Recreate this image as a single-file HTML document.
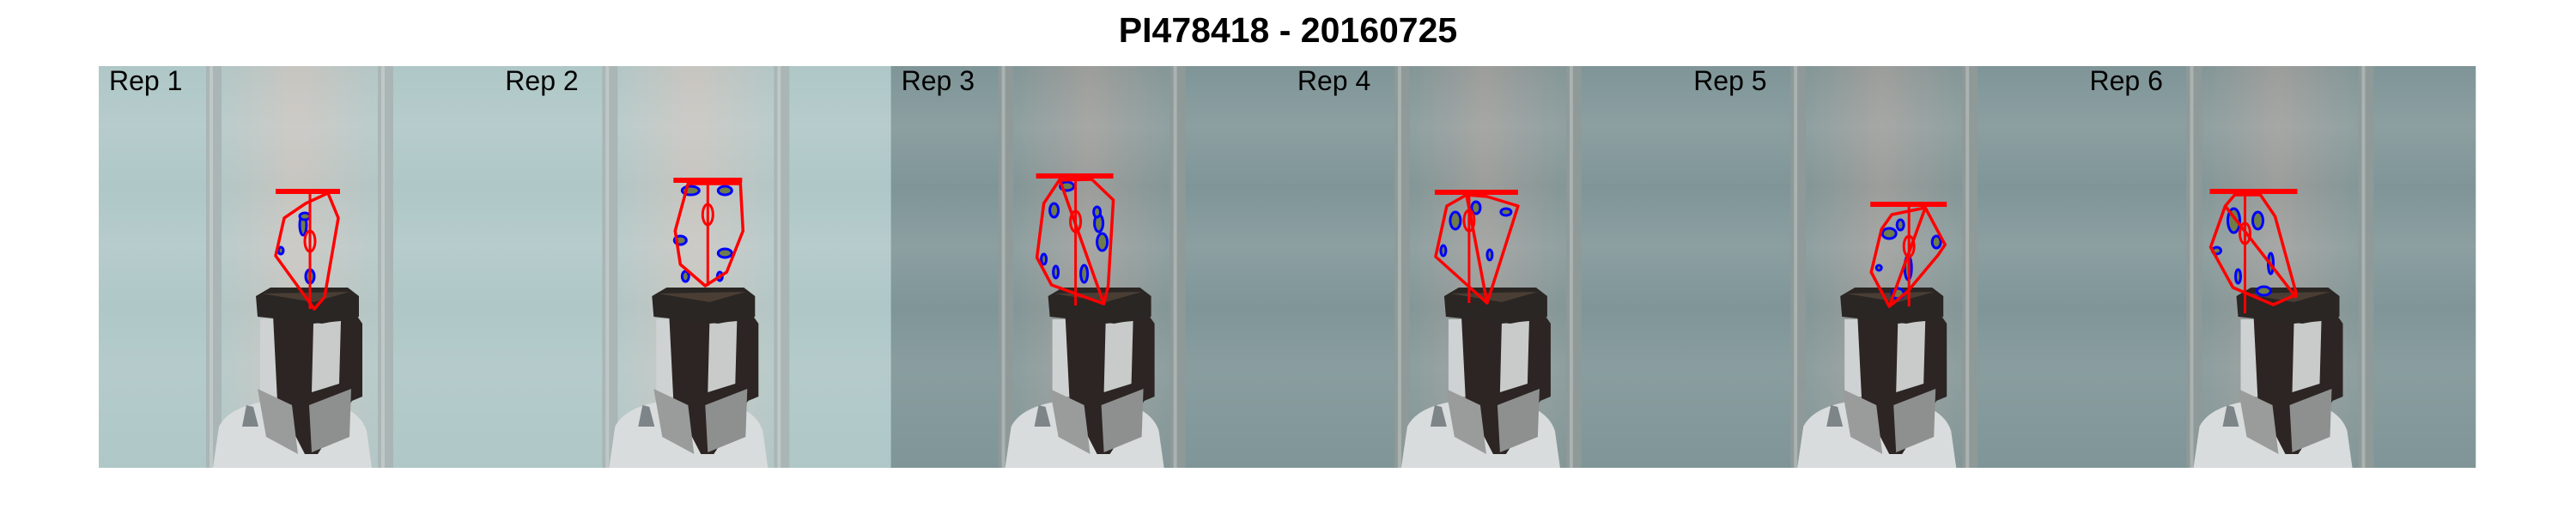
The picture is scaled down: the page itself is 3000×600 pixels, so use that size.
<!DOCTYPE html>
<html><head><meta charset="utf-8">
<style>
html,body{margin:0;padding:0;background:#fff;}
body{width:3000px;height:600px;position:relative;overflow:hidden;font-family:"Liberation Sans",Arial,sans-serif;}
#title{position:absolute;left:0;width:3000px;top:12px;text-align:center;font-weight:bold;font-size:41px;color:#000;line-height:46px;}
svg{position:absolute;left:0;top:0;}
</style></head>
<body>
<div id="title">PI478418 - 20160725</div>
<svg id="chart" width="3000" height="600"></svg>
<script>
// ---- data ----
const reps = ["Rep 1","Rep 2","Rep 3","Rep 4","Rep 5","Rep 6"];
const lighting = ["light","light","dark","dark","dark","dark"];
// convex hull vertices (panel-local px)
const hulls = [
 [[267,148],[279,177],[263,269],[251,283],[206,221],[216,177],[241,160]],
 [[225,137],[286,137],[289,192],[270,240],[245,256],[216,231],[210,192]],
 [[196,133],[234,132],[259,156],[253,256],[248,277],[187,255],[170,223],[178,160]],
 [[209,150],[233,152],[269,163],[233,276],[173,222],[186,163]],
 [[243,173],[282,165],[305,208],[297,220],[261,263],[240,280],[219,240],[231,190]],
 [[181,150],[211,150],[228,175],[253,266],[226,278],[179,258],[153,211],[170,163]]
];
// plant height bar: [x1,x2,y]
const topBars = [[206,281,146],[208,288,133],[169,259,128],[172,269,147],[218,307,161],[152,254,146]];
// vertical centre line: [x, yBottom]
const centerLines = [[246,283],[248,256],[215,279],[212,276],[263,280],[193,288]];
// centroid ellipse: [cx, cy]
const centroids = [[246,204],[248,173],[215,181],[212,180],[263,210],[193,195]];
// diagonal line [x1,y1,x2,y2] (null = none)
const diagonals = [null,null,[196,131,248,277],[209,150,233,276],[282,165,240,280],[170,163,253,270]];
// leaf blobs [cx,cy,rx,ry]
const leaves = [
 [[238,185,4,12],[246,245,5,8],[212,215,3,4],[240,175,6,4]],
 [[228,145,10,5],[268,145,8,5],[216,203,7,5],[268,218,8,5],[222,245,4,6],[262,245,3,5]],
 [[205,140,8,5],[190,168,5,8],[242,183,5,10],[246,205,6,10],[178,225,3,6],[192,240,3,7],[225,242,4,10],[240,170,4,6]],
 [[196,180,6,10],[220,165,5,7],[255,170,6,4],[182,215,3,6],[236,220,3,6]],
 [[240,195,8,6],[253,185,4,6],[295,205,5,7],[262,235,4,14],[228,235,3,3],[250,265,7,6]],
 [[180,180,7,14],[208,180,6,10],[160,215,5,4],[223,230,3,12],[185,245,3,8],[215,262,8,5]]
];
const panelW = 461.3, panelH = 468, panelX0 = 115, panelY0 = 77;
function px(i, x){ return panelX0 + i*panelW + x; }
function py(y){ return panelY0 + y; }

const svg = document.getElementById('chart');
const NS = "http://www.w3.org/2000/svg";
function mk(tag, attrs, parent){
  const e = document.createElementNS(NS, tag);
  for (const k in attrs) e.setAttribute(k, attrs[k]);
  (parent||svg).appendChild(e);
  return e;
}
const defs = mk('defs',{});
const pal = {
  light:{edge:"#afc7c7",mid:"#c8c5c0",pillar:"#a9b4b2"},
  dark:{edge:"#7f9597",mid:"#9d9e9b",pillar:"#8f9998"}
};
["light","dark"].forEach(k=>{
  const g = mk('linearGradient',{id:'bg-'+k,x1:0,y1:0,x2:1,y2:0},defs);
  mk('stop',{offset:'0',"stop-color":pal[k].edge},g);
  mk('stop',{offset:'0.28',"stop-color":pal[k].edge},g);
  mk('stop',{offset:'0.5',"stop-color":pal[k].mid},g);
  mk('stop',{offset:'0.74',"stop-color":pal[k].edge},g);
  mk('stop',{offset:'1',"stop-color":pal[k].edge},g);
  const v = mk('linearGradient',{id:'band-'+k,x1:0,y1:0,x2:0,y2:1},defs);
  [[0,0.0],[0.15,0.1],[0.3,0],[0.45,0.1],[0.6,0],[0.75,0.08],[1,0]].forEach(s=>{
    mk('stop',{offset:s[0],"stop-color":"#ffffff","stop-opacity":s[1]},v);
  });
});

reps.forEach((name,i)=>{
  const k = lighting[i], c = pal[k];
  const g = mk('g',{});
  
  
  mk('rect',{x:px(i,0),y:py(0),width:panelW+0.5,height:panelH,fill:'url(#bg-'+k+')'},g);
  mk('rect',{x:px(i,0),y:py(0),width:panelW+0.5,height:panelH,fill:'url(#band-'+k+')'},g);
  // pillars
  [[125,18],[325,18]].forEach(p=>{
    mk('rect',{x:px(i,p[0]),y:py(0),width:p[1],height:panelH,fill:c.pillar,opacity:0.9},g);
    mk('rect',{x:px(i,p[0]+4),y:py(0),width:4,height:panelH,fill:'#ffffff',opacity:0.25},g);
  });
  // white base
  mk('path',{d:`M${px(i,133)},${py(468)} L${px(i,140)},${py(420)} Q${px(i,155)},${py(390)} ${px(i,225)},${py(388)} Q${px(i,300)},${py(388)} ${px(i,312)},${py(425)} L${px(i,318)},${py(468)} Z`,fill:'#d9dcdc'},g);
  // grey bracket
  mk('path',{d:`M${px(i,167)},${py(420)} L${px(i,172)},${py(395)} L${px(i,180)},${py(397)} L${px(i,186)},${py(420)} Z`,fill:'#7d8588'},g);
  // white backing panel
  mk('rect',{x:px(i,188),y:py(295),width:25,height:90,fill:'#cfd2d2'},g);
  // stand body
  mk('path',{d:`M${px(i,203)},${py(290)} L${px(i,300)},${py(290)} L${px(i,307)},${py(300)} L${px(i,307)},${py(385)} L${px(i,295)},${py(390)} L${px(i,255)},${py(452)} L${px(i,240)},${py(452)} L${px(i,208)},${py(390)} Z`,fill:'#2c2523'},g);
  mk('path',{d:`M${px(i,250)},${py(300)} L${px(i,282)},${py(297)} L${px(i,280)},${py(370)} L${px(i,248)},${py(380)} Z`,fill:'#c9cbcb'},g);
  // silver plates
  mk('path',{d:`M${px(i,185)},${py(376)} L${px(i,225)},${py(395)} L${px(i,232)},${py(452)} L${px(i,195)},${py(432)} Z`,fill:'#9a9c9c'},g);
  mk('path',{d:`M${px(i,245)},${py(395)} L${px(i,294)},${py(376)} L${px(i,292)},${py(432)} L${px(i,248)},${py(450)} Z`,fill:'#8e9090'},g);
  // pot
  mk('path',{d:`M${px(i,183)},${py(268)} L${px(i,200)},${py(258)} L${px(i,290)},${py(258)} L${px(i,303)},${py(268)} L${px(i,303)},${py(292)} L${px(i,260)},${py(300)} L${px(i,185)},${py(292)} Z`,fill:'#2a2624'},g);
  mk('path',{d:`M${px(i,190)},${py(265)} L${px(i,292)},${py(263)} L${px(i,250)},${py(275)} Z`,fill:'#4a3e34'},g);
  // rep label
  const t = mk('text',{x:px(i,12),y:py(28),"font-size":32,fill:'#000',"font-family":'"Liberation Sans",Arial,sans-serif'},g);
  t.textContent = name;
  
  
  // leaves
  leaves[i].forEach(l=>{
    const e = mk('ellipse',{cx:px(i,l[0]),cy:py(l[1]),rx:l[2],ry:l[3],fill:'#6f7d4a',stroke:'#0000ff',"stroke-width":3},g);
    
    
  });
  // hull
  const pts = hulls[i].map(p=>px(i,p[0])+','+py(p[1])).join(' ');
  const hull = mk('polygon',{points:pts,fill:'none',stroke:'#ff0000',"stroke-width":3.5,"stroke-linejoin":'round'},g);
  
  
  const tb = topBars[i];
  const bar = mk('line',{x1:px(i,tb[0]),x2:px(i,tb[1]),y1:py(tb[2]),y2:py(tb[2]),stroke:'#ff0000',"stroke-width":6},g);
  
  
  const cl = centerLines[i];
  const vl = mk('line',{x1:px(i,cl[0]),x2:px(i,cl[0]),y1:py(tb[2]),y2:py(cl[1]),stroke:'#ff0000',"stroke-width":3},g);
  
  
  if (diagonals[i]){
    const d = diagonals[i];
    const dl = mk('line',{x1:px(i,d[0]),y1:py(d[1]),x2:px(i,d[2]),y2:py(d[3]),stroke:'#ff0000',"stroke-width":3.5},g);
    
    
  }
  const ce = centroids[i];
  const el = mk('ellipse',{cx:px(i,ce[0]),cy:py(ce[1]),rx:6,ry:12,fill:'none',stroke:'#ff0000',"stroke-width":3},g);
  
  
});
</script>
</body></html>
